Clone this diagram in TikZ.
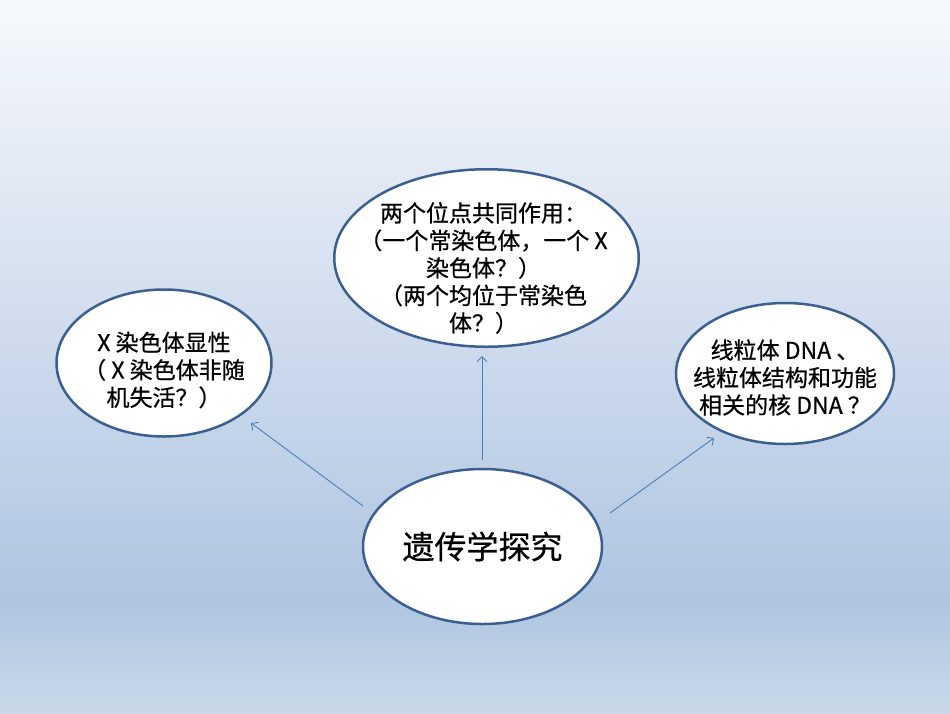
\documentclass[tikz,border=0pt]{standalone}
\usepackage{fontspec}
\newfontfamily\cjk[FakeBold=0.6]{Noto Sans CJK SC}
\usetikzlibrary{shapes.geometric,arrows.meta}
\definecolor{bgA}{HTML}{C9D9E8}
\definecolor{bgB}{HTML}{AFC5E1}
\definecolor{bgC}{HTML}{E9EEF7}
\definecolor{bgD}{HTML}{F6F9FC}
\definecolor{rim}{HTML}{3B5F8E}
\definecolor{arr}{HTML}{4A7EBB}
\pgfdeclareverticalshading{bgshade}{100bp}{color(0bp)=(bgA); color(25bp)=(bgA); color(32.92bp)=(bgB); color(66.58bp)=(bgC); color(75bp)=(bgD); color(100bp)=(bgD)}
\tikzset{
  bubble/.style={ellipse, draw=rim, line width=2.5pt, fill=white, inner sep=0pt},
  txt/.style={align=center, text=black, font={\cjk\fontsize{23}{27.5}\selectfont}},
  link/.style={draw=arr, line width=0.9pt, -{Straight Barb[length=5pt,width=10pt]}}
}
\begin{document}
\begin{tikzpicture}[x=1pt,y=-1pt]
\useasboundingbox (0,0) rectangle (950,713);
\shade[shading=bgshade] (0,0) rectangle (950,713);

\node[bubble, minimum width=304.5pt, minimum height=177.5pt,
  label={[txt, yshift=-10pt, xshift=-3pt]center:{两个位点共同作用：\\（一个常染色体，一个 X\\染色体？）\\（两个均位于常染色\\体？）}}] (top) at (486.5,258) {};

\node[bubble, minimum width=215pt, minimum height=147pt,
  label={[txt, yshift=-7pt]center:{X 染色体显性\\（ X 染色体非随\\机失活？）}}] (left) at (164,363) {};

\node[bubble, minimum width=218pt, minimum height=141pt,
  label={[txt, yshift=-4pt]center:{线粒体 DNA 、\\线粒体结构和功能\\相关的核 DNA ？}}] (right) at (785,373.5) {};

\node[bubble, minimum width=239pt, minimum height=155pt,
  font={\cjk\fontsize{32}{38}\selectfont}] (core) at (482.5,546.5) {遗传学探究};

\coordinate (ls) at (363,506);
\coordinate (lt) at (251,423);
\coordinate (ts) at (482,460);
\coordinate (tt) at (482,356);
\coordinate (rs) at (610,513);
\coordinate (rt) at (714,438);

\draw[link] (ls) -- (lt);
\draw[link] (ts) -- (tt);
\draw[link] (rs) -- (rt);
\end{tikzpicture}
\end{document}
